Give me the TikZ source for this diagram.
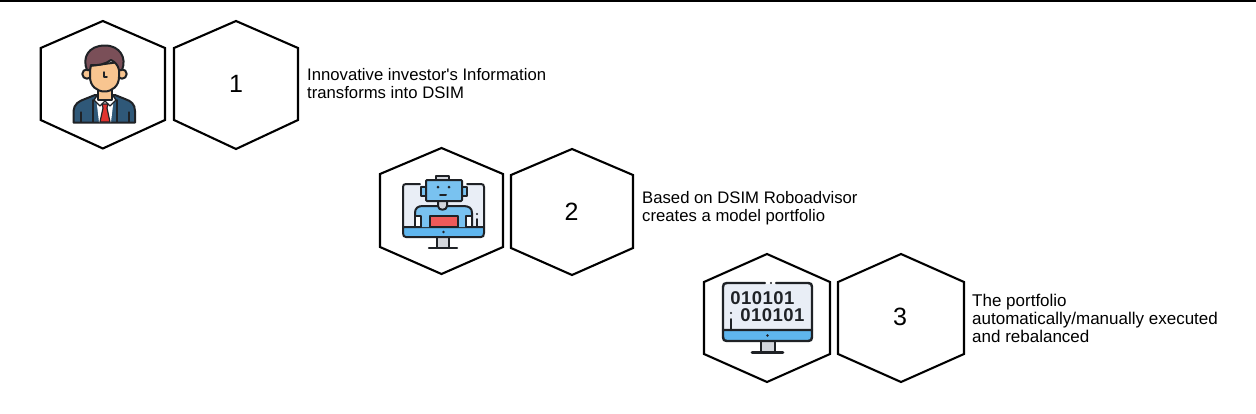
\documentclass[tikz,border=0pt]{standalone}
\usepackage{fontspec}
\setmainfont{Liberation Sans}
\definecolor{ink}{HTML}{1F2226}
\definecolor{screenbg}{HTML}{E9EEF6}
\definecolor{skyblue}{HTML}{5FB6EE}
\definecolor{robotblue}{HTML}{79C2F0}
\definecolor{alertred}{HTML}{EE5A5A}
\definecolor{suit}{HTML}{2F5878}
\definecolor{hair}{HTML}{7A4F58}
\definecolor{skin}{HTML}{F8C590}
\definecolor{tie}{HTML}{E0332F}
\definecolor{standgrey}{HTML}{D3D6DC}
\tikzset{
  x=1pt,y=-1pt,
  hexline/.style={draw=black,line width=2.1pt,line join=miter,fill=white},
  numlabel/.style={font=\fontsize{25}{25}\selectfont,text=black,inner sep=0pt},
  caption/.style={font=\fontsize{16.7}{18}\selectfont,align=left,anchor=west,inner sep=0pt,text=black},
  ic/.style={draw=ink,line width=2pt,line join=round,line cap=round},
  bits/.style={font=\fontsize{18.5}{18}\selectfont\bfseries\addfontfeatures{LetterSpace=2.5},text=ink,inner sep=0pt},
}
% flat-shouldered hexagon: left, right, top, upper shoulder, lower shoulder, bottom
\newcommand{\hexa}[6]{%
  \path[hexline] ({(#1+#2)/2},#3) -- (#2,#4) -- (#2,#5) -- ({(#1+#2)/2},#6) -- (#1,#5) -- (#1,#4) -- cycle;}
\begin{document}
\begin{tikzpicture}
\useasboundingbox (0,0) rectangle (1256,413);
\fill[white] (0,0) rectangle (1256,413);
\fill[black] (0,0) rectangle (1256,2.4);

% hexagon pairs
\hexa{40.7}{165}{21}{48}{120}{148.5}
\hexa{174}{298}{21}{48}{120}{149}
\hexa{380}{503}{148}{174}{247}{274}
\hexa{511}{633}{149}{175}{248}{275}
\hexa{704}{830}{254}{282}{354}{382}
\hexa{838}{964}{254}{282}{354}{382}

% step numbers
\node[numlabel] (n1) at (236,84) {1};
\node[numlabel] (n2) at (571.5,212) {2};
\node[numlabel] (n3) at (900,317) {3};

% step descriptions
\node[caption] (t1) at (307,83.5) {Innovative investor\textquotesingle s Information\\transforms into DSIM};
\node[caption] (t2) at (642,208) {Based on DSIM Roboadvisor\\creates a model portfolio};
\node[caption,font=\fontsize{17}{18}\selectfont] (t3) at (972,318) {The portfolio\\automatically/manually executed\\and rebalanced};

% investor figure
\path[ic,fill=suit] (73.5,122.5) -- (73.5,111) .. controls (74,104) and (79,101) .. (85,99) -- (95,95) -- (115,95) -- (125,99) .. controls (131,101) and (135,104) .. (135,111) -- (135,122.5) -- cycle;
\path[fill=white] (96,97) -- (114,97) -- (111,122) -- (99,122) -- cycle;
\path[ic,line width=1.4pt,fill=white] (98,94) -- (94,100) -- (100,106) -- (105,101) -- (110,106) -- (116,100) -- (112,94);
\path[ic,line width=1.2pt,fill=tie] (102,104) -- (108,104) -- (107,108) -- (110,122) -- (100,122) -- (103,108) -- cycle;
\path[ic,line width=1.5pt] (93,100) -- (93,122) (117,100) -- (117,122);
\path[ic,line width=1.3pt] (81,112) -- (81,122) (129,112) -- (129,122);
\path[ic,fill=skin] (98,88) rectangle (112,100);
\path[ic,fill=skin] (87,74) circle (4.7) (122,74) circle (4.7);
\path[ic,fill=skin] (90,66) -- (90,77) .. controls (90,86) and (97,91.5) .. (104.5,91.5) .. controls (112,91.5) and (119,86) .. (119,77) -- (119,62) -- cycle;
\path[ic,fill=hair] (87,70) .. controls (82,58) and (88,45.5) .. (105,45.5) .. controls (120,45.5) and (127,58) .. (122,70) -- (119,70) .. controls (118,65) and (115,62) .. (111,60) .. controls (106,64) and (97,66) .. (91,65) -- (90,70) -- cycle;
\path[ic,line width=1.5pt] (104,72) -- (104,77) -- (107,77);

% robot on a desktop monitor
\path[ic,fill=standgrey] (437,237) rectangle (449,248);
\path[ic,line width=2.4pt] (429,248) -- (457,248);
\path[fill=screenbg] (404,185) rectangle (484,228);
\path[ic,fill=skyblue] (403,227) -- (484,227) -- (484,233) .. controls (484,236) and (483,237) .. (481,237) -- (406,237) .. controls (404,237) and (403,236) .. (403,233) -- cycle;
\path[ic] (420,184) -- (406,184) .. controls (404,184) and (403,185) .. (403,187) -- (403,227);
\path[ic] (467,184) -- (481,184) .. controls (483,184) and (484,185) .. (484,187) -- (484,227);
\path[ic,fill=robotblue] (415,227) -- (415,213) .. controls (415,208) and (418,206) .. (423,206) -- (463,206) .. controls (469,206) and (472,208) .. (472,213) -- (472,227);
\path[ic,line width=1.5pt,fill=white] (415,216) rectangle (421,227) (466,216) rectangle (472,227);
\path[ic,fill=alertred] (430,216) rectangle (458,227);
\path[ic,fill=standgrey] (438,200) -- (438,206) .. controls (438,211) and (447,211) .. (447,206) -- (447,200);
\path[ic,fill=robotblue] (421,187) rectangle (427,196) (461,187) rectangle (467,196);
\path[ic,fill=standgrey] (436,176) rectangle (449,180);
\path[ic,fill=robotblue,rounded corners=1pt] (426,180) rectangle (462,201);
\fill[ink] (438,187) circle (1.5) (449,187) circle (1.5) (443.5,232) circle (1.4) (477,214) circle (1.2);
\path[ic] (440,195) -- (446,195) (477,219) -- (477,227);

% desktop monitor with binary digits
\path[ic,fill=standgrey] (761,341) rectangle (775,352);
\path[ic,line width=2.6pt] (752,352.5) -- (783,352.5);
\path[fill=screenbg] (724,284) rectangle (812,331);
\path[ic,line width=2.4pt,fill=skyblue] (723,330) -- (812,330) -- (812,337) .. controls (812,340) and (811,341) .. (808,341) -- (727,341) .. controls (724,341) and (723,340) .. (723,337) -- cycle;
\path[ic,line width=2.4pt] (723,330) -- (723,287) .. controls (723,284) and (724,283) .. (727,283) -- (765,283);
\path[ic,line width=2.4pt] (776,283) -- (808,283) .. controls (811,283) and (812,284) .. (812,287) -- (812,330);
\fill[ink] (771,283) circle (1.2) (767.5,335.5) circle (1.4) (731,313) circle (1.2);
\path[ic] (731,319) -- (731,330);
\node[bits] (b1) at (762.5,298.5) {010101};
\node[bits] (b2) at (772.5,315) {010101};
\end{tikzpicture}
\end{document}
